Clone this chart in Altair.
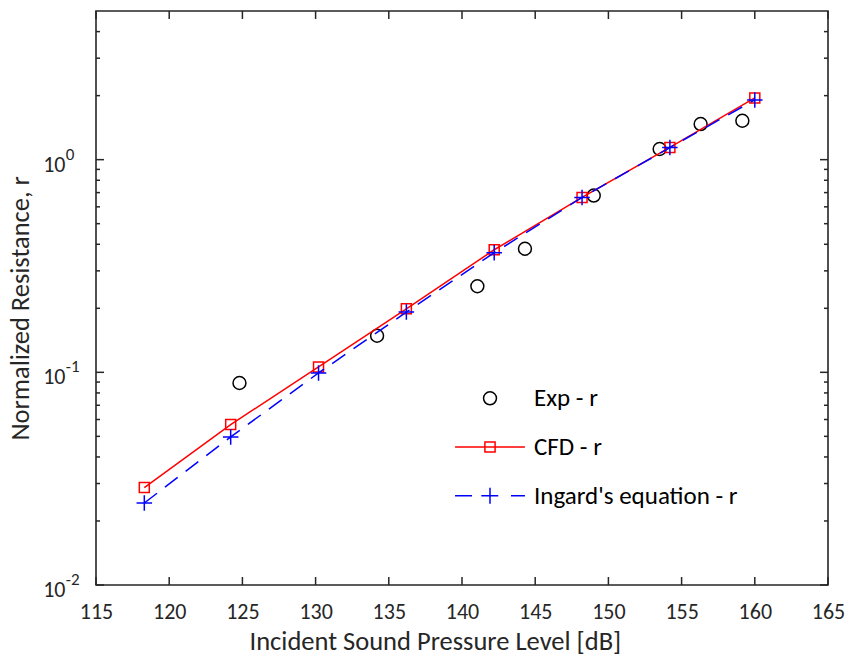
import altair as alt
import pandas as pd

# ---- data ----
spl_exp = [124.8, 134.2, 141.05, 144.3, 149.0, 153.5, 156.3, 159.15]
r_exp = [0.0891, 0.1486, 0.254, 0.381, 0.678, 1.122, 1.47, 1.524]

spl_model = [118.3, 124.2, 130.2, 136.2, 142.2, 148.2, 154.2, 160.0]
r_cfd = [0.0287, 0.0568, 0.106, 0.199, 0.377, 0.664, 1.142, 1.95]
r_ingard = [0.0243, 0.0497, 0.0993, 0.192, 0.365, 0.664, 1.14, 1.91]

series_names = ["Exp - r", "CFD - r", "Ingard's equation - r"]
series_colors = ["#000000", "#ff0000", "#0000ff"]

x_ticks = [115, 120, 125, 130, 135, 140, 145, 150, 155, 160, 165]
y_major = [0.01, 0.1, 1.0]
y_exponents = ["-2", "-1", "0"]
y_minor = [0.02, 0.03, 0.04, 0.05, 0.06, 0.07, 0.08, 0.09,
           0.2, 0.3, 0.4, 0.5, 0.6, 0.7, 0.8, 0.9,
           2.0, 3.0, 4.0]

# ---- styling ----
W, H = 732, 574
FONT = "Carlito, Lato, sans-serif"
AX = "#262626"
FS_TICK = 22
FS_TITLE = 26.5
FS_LEG = 25

exp_df = pd.DataFrame({"spl": spl_exp, "r": r_exp, "series": series_names[0]})
cfd_df = pd.DataFrame({"spl": spl_model, "r": r_cfd})
ing_df = pd.DataFrame({"spl": spl_model, "r": r_ingard})
xt_df = pd.DataFrame({"t": x_ticks})
ymaj_df = pd.DataFrame({"v": y_major, "e": y_exponents})
ymin_df = pd.DataFrame({"v": y_minor})

xscale = alt.Scale(domain=[115, 165], nice=False, zero=False)
yscale = alt.Scale(type="log", domain=[0.01, 5], nice=False)

xaxis = alt.Axis(
    title="Incident Sound Pressure Level [dB]", values=x_ticks, ticks=False,
    domain=False, grid=False, labelPadding=33, labelBaseline="alphabetic",
    labelFontSize=FS_TICK, labelFont=FONT,
    labelColor=AX, labelFlush=False, labelOverlap=False,
    titleFontSize=FS_TITLE, titleFont=FONT, titleColor=AX, titleFontWeight="normal",
    titleX=153, titleY=64, titleBaseline="alphabetic", titleAlign="left")
yaxis = alt.Axis(
    title="Normalized Resistance, r", values=y_major, labelExpr="'10'",
    ticks=False, domain=False, grid=False, labelPadding=31, labelOffset=11.5,
    labelFontSize=FS_TICK, labelFont=FONT, labelColor=AX, labelFlush=False,
    labelOverlap=False, labelBaseline="alphabetic",
    titleFontSize=FS_TITLE, titleFont=FONT, titleColor=AX, titleFontWeight="normal",
    titleX=-67.7, titleY=429, titleAngle=270, titleBaseline="alphabetic",
    titleAlign="left")

X = lambda f: alt.X(f, scale=xscale, axis=xaxis)
Y = lambda f: alt.Y(f, scale=yscale, axis=yaxis)

# glyphs (unit = 15 px at size 900)
circle_path = "M0.43,0A0.43,0.43,0,1,1,-0.43,0A0.43,0.43,0,1,1,0.43,0Z"
cfd_path = "M-2.33,0H2.33M-0.34,-0.34H0.34V0.34H-0.34Z"
ing_path = "M-2.33,0H-1.2M-0.58,0H0.55M0,-0.53V0.53M1.4,0H2.33"


def make_legend():
    return alt.Legend(
        title=None, orient="none", legendX=378, legendY=371.3, symbolSize=900,
        labelFontSize=FS_LEG, labelFont=FONT, labelColor="#000000", labelOffset=28,
        rowPadding=19.7, padding=0, symbolStrokeWidth=1.5, labelLimit=0,
        symbolFillColor="transparent")


exp_layer = alt.Chart(exp_df).mark_point(
    filled=False, size=900, strokeWidth=1.5, opacity=1
).encode(
    x=X("spl:Q"), y=Y("r:Q"),
    color=alt.Color("series:N", scale=alt.Scale(domain=series_names, range=series_colors),
                    legend=make_legend()),
    shape=alt.Shape("series:N", scale=alt.Scale(domain=series_names,
                                                range=[circle_path, cfd_path, ing_path]),
                    legend=make_legend()))

cfd_line = alt.Chart(cfd_df).mark_line(color="#ff0000", strokeWidth=1.5).encode(x=X("spl:Q"), y=Y("r:Q"))
cfd_pts = alt.Chart(cfd_df).mark_point(shape="square", filled=False, color="#ff0000", size=100,
                                      strokeWidth=1.5, opacity=1).encode(x=X("spl:Q"), y=Y("r:Q"))
ing_line = alt.Chart(ing_df).mark_line(color="#0000ff", strokeWidth=1.5, strokeDash=[16, 10]).encode(
    x=X("spl:Q"), y=Y("r:Q"))
ing_pts = alt.Chart(ing_df).mark_point(shape="M-1,0H1M0,-1V1", filled=False, color="#0000ff", size=240,
                                      strokeWidth=1.5, opacity=1).encode(x=X("spl:Q"), y=Y("r:Q"))

tick_kw = dict(color=AX, strokeWidth=1.5)
xt_bottom = alt.Chart(xt_df).mark_rule(**tick_kw).encode(x=X("t:Q"), y=alt.value(H), y2=alt.value(H - 8))
xt_top = alt.Chart(xt_df).mark_rule(**tick_kw).encode(x=X("t:Q"), y=alt.value(0), y2=alt.value(8))
yl_major = alt.Chart(ymaj_df).mark_rule(**tick_kw).encode(y=Y("v:Q"), x=alt.value(0), x2=alt.value(8))
yr_major = alt.Chart(ymaj_df).mark_rule(**tick_kw).encode(y=Y("v:Q"), x=alt.value(W), x2=alt.value(W - 8))
yl_minor = alt.Chart(ymin_df).mark_rule(**tick_kw).encode(y=Y("v:Q"), x=alt.value(0), x2=alt.value(4))
yr_minor = alt.Chart(ymin_df).mark_rule(**tick_kw).encode(y=Y("v:Q"), x=alt.value(W), x2=alt.value(W - 4))

exp_text = alt.Chart(ymaj_df).mark_text(
    align="left", baseline="alphabetic", fontSize=17, font=FONT, color=AX, dy=0
).encode(x=alt.value(-30.3), y=Y("v:Q"), text="e:N")

chart = alt.layer(
    xt_bottom, xt_top, yl_major, yr_major, yl_minor, yr_minor, exp_text,
    exp_layer, cfd_line, cfd_pts, ing_line, ing_pts
).properties(
    width=W, height=H,
    autosize=alt.AutoSizeParams(type="none"),
    padding={"left": 96, "top": 11, "right": 21, "bottom": 74},
    background="white",
).configure_view(stroke=AX, strokeWidth=1.6)

chart.save("out.html", embed_options={"renderer": "svg", "actions": False})
